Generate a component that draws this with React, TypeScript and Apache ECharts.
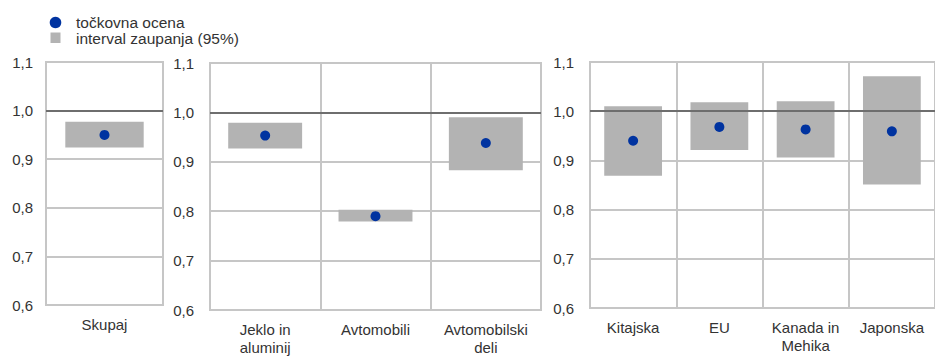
import React, { useEffect, useRef } from "react";
import * as echarts from "echarts";

const categories1 = ["Skupaj"];
const categories2 = ["Jeklo in\naluminij", "Avtomobili", "Avtomobilski\ndeli"];
const categories3 = ["Kitajska", "EU", "Kanada in\nMehika", "Japonska"];

const points1 = [0.95];
const lower1 = [0.924];
const upper1 = [0.977];

const points2 = [0.953, 0.79, 0.938];
const lower2 = [0.927, 0.779, 0.883];
const upper2 = [0.979, 0.803, 0.99];

const points3 = [0.94, 0.968, 0.963, 0.959];
const lower3 = [0.869, 0.921, 0.906, 0.851];
const upper3 = [1.01, 1.018, 1.02, 1.071];

const yTicks = [0.6, 0.7, 0.8, 0.9, 1.0, 1.1];

const POINT_NAME = "točkovna ocena";
const BOX_NAME = "interval zaupanja (95%)";

const FONT = "'Liberation Sans', Arial, sans-serif";
const GRID_COLOR = "#c6c6c6";
const BOX_COLOR = "#b3b3b3";
const POINT_COLOR = "#0033a0";
const TEXT_COLOR = "#333333";

export default function App() {
  const ref = useRef<HTMLDivElement>(null);

  useEffect(() => {
    if (!ref.current) return;
    const chart = echarts.init(ref.current, undefined, { renderer: "svg" });

    const panels = [
      { cats: categories1, pts: points1, lo: lower1, hi: upper1, grid: { left: 46, top: 62, width: 117, height: 243 }, yMargin: 13 },
      { cats: categories2, pts: points2, lo: lower2, hi: upper2, grid: { left: 210, top: 63, width: 331, height: 248 }, yMargin: 16 },
      { cats: categories3, pts: points3, lo: lower3, hi: upper3, grid: { left: 590, top: 62, width: 355, height: 246 }, yMargin: 16 },
    ];

    const grids = panels.map((p) => ({
      ...p.grid,
      show: true,
      borderColor: GRID_COLOR,
      borderWidth: 2,
      backgroundColor: "transparent",
      containLabel: false,
    }));

    const xAxes = panels.map((p, i) => ({
      type: "category",
      gridIndex: i,
      data: p.cats,
      boundaryGap: true,
      axisLine: { show: false },
      axisTick: { show: false },
      splitLine: { show: true, interval: 0, lineStyle: { color: GRID_COLOR, width: 2 } },
      axisLabel: {
        interval: 0,
        margin: 10,
        fontSize: 15,
        lineHeight: 18,
        color: TEXT_COLOR,
        fontFamily: FONT,
      },
    }));

    const yAxes = panels.map((p, i) => ({
      type: "value",
      gridIndex: i,
      min: yTicks[0],
      max: yTicks[yTicks.length - 1],
      interval: 0.1,
      axisLine: { show: false },
      axisTick: { show: false },
      splitLine: { show: true, lineStyle: { color: GRID_COLOR, width: 2 } },
      axisLabel: {
        margin: p.yMargin,
        fontSize: 15,
        color: TEXT_COLOR,
        fontFamily: FONT,
        formatter: (v: number) => v.toFixed(1).replace(".", ","),
      },
    }));

    const series: any[] = [];
    panels.forEach((p, i) => {
      series.push({
        type: "custom",
        name: BOX_NAME,
        xAxisIndex: i,
        yAxisIndex: i,
        z: 2,
        data: p.cats.map((_, k) => [k, p.lo[k], p.hi[k]]),
        renderItem: (params: any, api: any) => {
          const x = api.value(0);
          const lo = api.coord([x, api.value(1)]);
          const hi = api.coord([x, api.value(2)]);
          const bw = api.size([1, 0])[0] * 0.67;
          return {
            type: "rect",
            shape: { x: lo[0] - bw / 2, y: hi[1], width: bw, height: lo[1] - hi[1] },
            style: { fill: BOX_COLOR },
          };
        },
      });
      series.push({
        type: "scatter",
        name: POINT_NAME,
        xAxisIndex: i,
        yAxisIndex: i,
        z: 3,
        symbol: "circle",
        symbolSize: 10,
        itemStyle: { color: POINT_COLOR, opacity: 1 },
        data: p.pts.map((v, k) => [k, v]),
        markLine: {
          silent: true,
          symbol: ["none", "none"],
          label: { show: false },
          lineStyle: { color: "#6e6e6e", width: 2, type: "solid" },
          data: [{ yAxis: 1.0 }],
        },
      });
    });

    chart.setOption({
      animation: false,
      backgroundColor: "#ffffff",
      grid: grids,
      xAxis: xAxes,
      yAxis: yAxes,
      series,
      graphic: [
        { type: "circle", shape: { cx: 55.5, cy: 22.5, r: 5.8 }, style: { fill: POINT_COLOR } },
        { type: "rect", shape: { x: 50.5, y: 32.5, width: 10, height: 10.5 }, style: { fill: BOX_COLOR } },
        {
          type: "text",
          x: 76,
          y: 22,
          style: { text: POINT_NAME, fontSize: 15.5, fontFamily: FONT, fill: TEXT_COLOR, verticalAlign: "middle" },
        },
        {
          type: "text",
          x: 76,
          y: 38,
          style: { text: BOX_NAME, fontSize: 15.5, fontFamily: FONT, fill: TEXT_COLOR, verticalAlign: "middle" },
        },
      ],
    });

    return () => chart.dispose();
  }, []);

  return (
    <div
      ref={ref}
      style={{ position: "fixed", left: 0, top: 0, width: 935, height: 356 }}
    />
  );
}
